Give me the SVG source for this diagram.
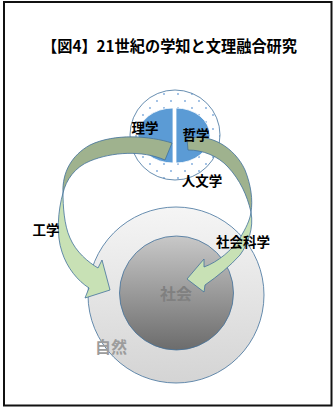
<svg xmlns="http://www.w3.org/2000/svg" width="334" height="408" viewBox="0 0 334 408">
<defs>
<style>
.lbl{font-family:"Noto Sans CJK JP","Noto Sans",sans-serif;font-weight:bold;font-size:13.5px;fill:#000;text-anchor:middle;dominant-baseline:central}
.gray{font-size:16px;text-anchor:middle;dominant-baseline:central;font-family:"Noto Sans CJK JP","Noto Sans",sans-serif;font-weight:bold}
.edge{stroke:#41719C;stroke-width:0.8}
.back{fill:#9fb28e}
.front{fill:#c8e1b5}
</style>
<linearGradient id="gOuter" x1="0" y1="0" x2="0" y2="1">
<stop offset="0" stop-color="#f5f5f5"/>
<stop offset="1" stop-color="#d4d4d4"/>
</linearGradient>
<linearGradient id="gInner" x1="0" y1="0" x2="0" y2="1">
<stop offset="0" stop-color="#c8c8c8"/>
<stop offset="1" stop-color="#6c6c6c"/>
</linearGradient>
<pattern id="dots" width="14" height="14" patternUnits="userSpaceOnUse">
<rect width="14" height="14" fill="#ffffff"/>
<circle cx="3" cy="3" r="0.9" fill="#7aa7da"/>
<circle cx="10" cy="10" r="0.9" fill="#7aa7da"/>
</pattern>
</defs>
<rect x="0" y="0" width="334" height="408" fill="#ffffff"/>
<rect x="4" y="2" width="327.5" height="403.5" fill="none" stroke="#111" stroke-width="2"/>
<text x="169.5" y="45" font-family="'Noto Sans CJK JP','Noto Sans',sans-serif" font-weight="bold" font-size="15.5" text-anchor="middle" dominant-baseline="central" textLength="255" lengthAdjust="spacingAndGlyphs">【図4】21世紀の学知と文理融合研究</text>

<g id="nature">
<circle cx="176" cy="295" r="88" fill="url(#gOuter)" class="edge"/>
</g>
<g id="society">
<circle cx="176.5" cy="293" r="57" fill="url(#gInner)" class="edge"/>
</g>
<g id="humanities">
<circle cx="175" cy="135" r="45" fill="url(#dots)" class="edge"/>
<path d="M173,108 A35,27.5 0 0 0 173,163 Z" fill="#5B9BD5" stroke="#ffffff" stroke-width="0.8"/>
<path d="M176,108 A34,27.5 0 0 1 176,163 Z" fill="#5B9BD5" stroke="#ffffff" stroke-width="0.8"/>
</g>

<g id="connectors">
<g id="arrow-left">
<path class="back edge" d="M172,143 C150,136 115,133 90,145 C72,155 62,172 63,193 C66,180 75,167 90,161 C112,152 142,150 165,160 Z"/>
<path class="front edge" d="M63,193 C58,210 56,235 62,252 C67,268 78,281 89,288 L85,298 L110,290 L102,260 L98,268 C88,262 76,252 70,238 C64,225 63,205 63,193 Z"/>
</g>
<g id="arrow-right">
<path class="back edge" d="M187,139 C210,132 235,148 245,170 C251,185 253,200 251,212 C247,195 240,180 228,167 C218,156 203,150 188,150 Z"/>
<path class="front edge" d="M251,212 C254,228 248,244 240,255 C230,266 218,276 205,285 L204,292 L187,279 L204,259 L204,267 C218,262 232,250 240,238 C246,228 250,220 251,212 Z"/>
</g>
</g>

<g id="labels">
<text class="lbl" x="145" y="127">理学</text>
<text class="lbl" x="196" y="134">哲学</text>
<text class="lbl" x="202" y="180">人文学</text>
<text class="lbl" x="46" y="229">工学</text>
<text class="lbl" x="243" y="241">社会科学</text>
<text class="gray" x="176" y="293" fill="#808080">社会</text>
<text class="gray" x="111" y="346" fill="#9c9c9c">自然</text>
</g>
</svg>
